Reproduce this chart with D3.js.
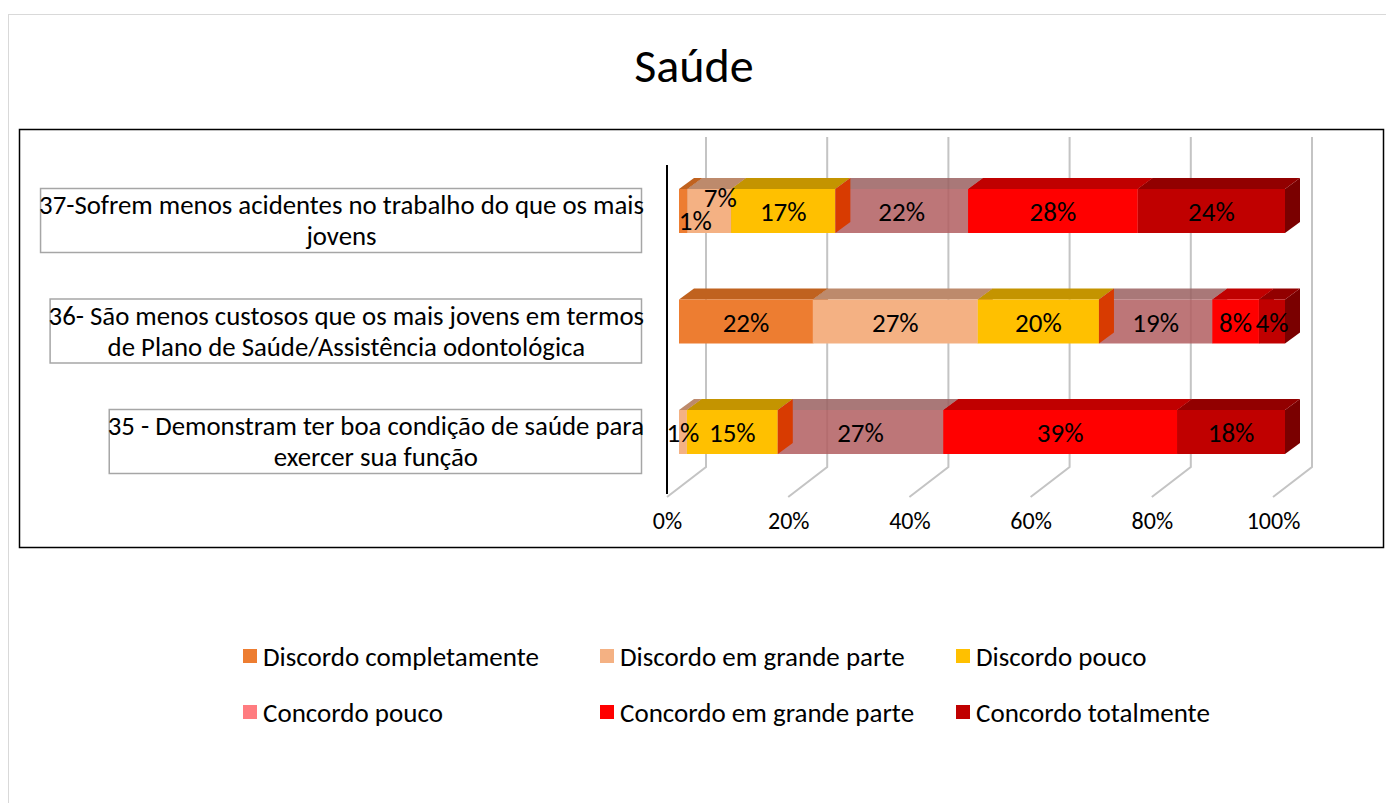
<!DOCTYPE html>
<html><head><meta charset="utf-8">
<script src="https://cdn.jsdelivr.net/npm/d3@7"></script>
<style>
body{margin:0;background:#fff;}
svg{display:block;}
text{font-family:Carlito,Calibri,Lato,sans-serif;fill:#000;}
</style>
</head><body>
<svg id="c" width="1386" height="803"></svg>
<script>
// ---------- DATA ----------
const categories = ["37", "36", "35"];
const categoryLines = [
  ["37-Sofrem menos acidentes no trabalho do que os mais", "jovens"],
  ["36- São menos custosos que os mais jovens em termos", "de Plano de Saúde/Assistência odontológica"],
  ["35 - Demonstram ter boa condição de saúde para", "exercer sua função"]
];
const seriesNames = ["Discordo completamente", "Discordo em grande parte", "Discordo pouco",
                     "Concordo pouco", "Concordo em grande parte", "Concordo totalmente"];
const discordoCompletamente = [1.4, 22.1, 0];
const discordoGrandeParte   = [7.2, 27.2, 1.3];
const discordoPouco         = [17.2, 20.0, 15.0];
const concordoPouco         = [21.9, 18.7, 27.3];
const concordoGrandeParte   = [28.0, 7.7, 38.6];
const concordoTotalmente    = [24.3, 4.3, 17.8];
const tickValues = [0, 20, 40, 60, 80, 100];
const tickLabels = ["0%", "20%", "40%", "60%", "80%", "100%"];
const titleText = "Saúde";

// ---------- STYLE ----------
const seriesValues = [discordoCompletamente, discordoGrandeParte, discordoPouco,
                      concordoPouco, concordoGrandeParte, concordoTotalmente];
const legendColors = ["#ED7D31", "#F4B183", "#FFC000", "#FF7C80", "#FF0000", "#C00000"];
const frontColors  = ["#ED7D31", "#F4B183", "#FFC000", "#B25E60", "#FF0000", "#C00000"];
const topColors    = ["#C0621F", "#BD8A6C", "#C49400", "#9A6060", "#C00000", "#920000"];
const sideColors   = ["#B0541A", "#B88060", "#D83B01", "#9A6060", "#C00000", "#7A0000"];
const faceOpacity  = [1, 1, 1, 0.85, 1, 1];
const FS = 27, CAT_FS = 26.8;

const svg = d3.select("#c");

// outer chart border
svg.append("rect").attr("x", 8.5).attr("y", 14.5).attr("width", 1400).attr("height", 800)
  .attr("fill", "none").attr("stroke", "#d9d9d9").attr("stroke-width", 1);

// title
svg.append("text").attr("x", 694).attr("y", 82).attr("text-anchor", "middle")
  .attr("font-size", 48).text(titleText);

// plot area border
svg.append("rect").attr("x", 19.5).attr("y", 129.5).attr("width", 1364).attr("height", 418)
  .attr("fill", "none").attr("stroke", "#000").attr("stroke-width", 1.5);

// scales
const x = d3.scaleLinear().domain([0, 100]).range([0, 606]);
const backX0 = 706, floorX0 = 667, barX0 = 679;
const wallTop = 137, wallBottom = 467, floorY = 497;
const y = d3.scalePoint().domain(categories).range([211, 432]);
const barH = 44, dX = 15, dY = -11;

// grid (back wall + floor)
const grid = svg.append("g");
tickValues.forEach(t => {
  grid.append("path")
    .attr("d", `M${backX0 + x(t)},${wallTop}V${wallBottom}L${floorX0 + x(t)},${floorY}`)
    .attr("fill", "none").attr("stroke", "#c4c4c4").attr("stroke-width", 2);
});

// vertical axis line
svg.append("line").attr("x1", 667).attr("x2", 667).attr("y1", 165).attr("y2", 494)
  .attr("stroke", "#000").attr("stroke-width", 2);

// x axis labels
const xAxisScale = d3.scaleLinear().domain([0, 100]).range([floorX0, floorX0 + 606]);
const axisG = svg.append("g").attr("transform", "translate(0,512)")
  .call(d3.axisBottom(xAxisScale).tickValues(tickValues).tickSize(0).tickPadding(0)
        .tickFormat((d, i) => tickLabels[i]));
axisG.select(".domain").remove();
axisG.selectAll("text").attr("font-size", 24).attr("fill", "#000")
  .style("font-family", "Carlito,Calibri,Lato,sans-serif");

// stacked bars
const rows = categories.map((c, i) => {
  const o = { cat: c };
  seriesNames.forEach((s, j) => o[s] = seriesValues[j][i]);
  return o;
});
const stacked = d3.stack().keys(seriesNames)(rows);
const barsG = svg.append("g");
const deferred = [];
function sidePath(x2, yt, yb) {
  return `M${x2},${yt}L${x2 + dX},${yt + dY}L${x2 + dX},${yb + dY}L${x2},${yb}Z`;
}
stacked.forEach((layer, j) => {
  layer.forEach((d, i) => {
    const v = d[1] - d[0];
    if (v <= 0) return;
    const x1 = barX0 + x(d[0]), x2 = barX0 + x(d[1]);
    const yt = y(categories[i]) - barH / 2, yb = yt + barH;
    const op = faceOpacity[j];
    const nextTranslucent = j + 1 < seriesNames.length && faceOpacity[j + 1] < 1;
    if (nextTranslucent) deferred.push({ x2, yt, yb, j });
    else barsG.append("path").attr("d", sidePath(x2, yt, yb)).attr("fill", sideColors[j]).attr("opacity", op);
    barsG.append("path")
      .attr("d", `M${x1},${yt}L${x2},${yt}L${x2 + dX},${yt + dY}L${x1 + dX},${yt + dY}Z`)
      .attr("fill", topColors[j]).attr("opacity", op);
    barsG.append("rect").attr("x", x1).attr("y", yt).attr("width", x2 - x1).attr("height", barH)
      .attr("fill", frontColors[j]).attr("opacity", op);
  });
});
deferred.forEach(s => {
  barsG.append("path").attr("d", sidePath(s.x2, s.yt, s.yb)).attr("fill", sideColors[s.j]);
});

// data labels
const labelNudge = { "0-0": [12, 9], "1-0": [11, -14] }; // series-row manual offsets (as in source)
const fmt = d3.format(".0f");
const labelsG = svg.append("g");
stacked.forEach((layer, j) => {
  layer.forEach((d, i) => {
    const v = d[1] - d[0];
    if (v <= 0) return;
    const nudge = labelNudge[j + "-" + i] || [0, 0];
    const cx = barX0 + (x(d[0]) + x(d[1])) / 2 + nudge[0];
    const cy = y(categories[i]) + 10 + nudge[1];
    labelsG.append("text").attr("x", cx).attr("y", cy).attr("text-anchor", "middle")
      .attr("font-size", FS).text(fmt(v) + "%");
  });
});

// category label boxes
const catG = svg.append("g");
categories.forEach((c, i) => {
  const cy = y(c) + 9;
  const g = catG.append("g");
  const box = g.append("rect");
  const texts = categoryLines[i].map((line, k) =>
    g.append("text").attr("y", cy - 6 + k * 31).attr("text-anchor", "middle")
      .attr("font-size", CAT_FS).text(line));
  const maxW = d3.max(texts, t => t.node().getComputedTextLength());
  const right = 641, bw = maxW - 4, left = right - bw;
  texts.forEach(t => t.attr("x", (left + right) / 2 + 1));
  box.attr("x", left + 0.5).attr("y", cy - 32 + 0.5).attr("width", bw).attr("height", 64)
    .attr("fill", "#fff").attr("stroke", "#a6a6a6").attr("stroke-width", 1.5);
});

// legend
const legendG = svg.append("g");
const legCols = [243, 600, 956], legRows = [656, 712];
seriesNames.forEach((s, i) => {
  const lx = legCols[i % 3], ly = legRows[Math.floor(i / 3)];
  legendG.append("rect").attr("x", lx).attr("y", ly - 7).attr("width", 14).attr("height", 14)
    .attr("fill", legendColors[i]);
  legendG.append("text").attr("x", lx + 20).attr("y", ly + 10).attr("font-size", FS).text(s);
});
</script>
</body></html>
